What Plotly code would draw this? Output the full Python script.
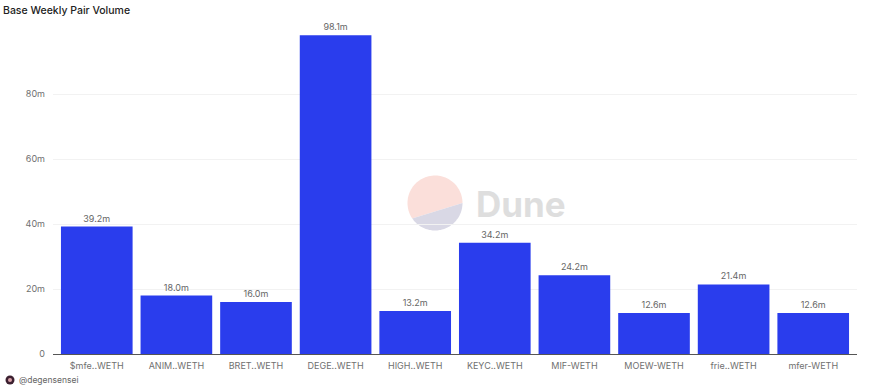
import math
import plotly.graph_objects as go

categories = ["$mfe..WETH", "ANIM..WETH", "BRET..WETH", "DEGE..WETH", "HIGH..WETH",
              "KEYC..WETH", "MIF-WETH", "MOEW-WETH", "frie..WETH", "mfer-WETH"]
volume_m = [39.2, 18.0, 16.0, 98.1, 13.2, 34.2, 24.2, 12.6, 21.4, 12.6]
value_labels = ["39.2m", "18.0m", "16.0m", "98.1m", "13.2m", "34.2m", "24.2m", "12.6m", "21.4m", "12.6m"]
y_ticks = [0, 20, 40, 60, 80]
y_tick_labels = ["0", "20m", "40m", "60m", "80m"]

W, H = 874, 391
ML, MR, MT, MB = 53, 17, 20, 37
FONT = "Inter, 'Noto Sans', sans-serif"


def px(x):
    return (x - ML) / (W - ML - MR)


def py(y):
    return (H - MB - y) / (H - MT - MB)


def wedge(cx, cy, r, a0, a1, n=60):
    pts = []
    for i in range(n + 1):
        a = math.radians(a0 + (a1 - a0) * i / n)
        pts.append((cx + r * math.cos(a), cy + r * math.sin(a)))
    return "M" + " L".join(f"{px(x):.5f},{py(y):.5f}" for x, y in pts) + " Z"


fig = go.Figure(go.Bar(
    x=list(range(len(categories))),
    y=volume_m,
    width=0.9,
    marker=dict(color="#2a3ded", line=dict(width=0)),
    text=value_labels,
    textposition="outside",
    cliponaxis=False,
    textfont=dict(family=FONT, size=9, color="#666666"),
    hoverinfo="skip",
))

shapes = [
    dict(type="path", xref="paper", yref="paper", layer="below",
         path=wedge(435, 203, 27.5, 146, 360), fillcolor="#fbdfda", line=dict(width=0)),
    dict(type="path", xref="paper", yref="paper", layer="below",
         path=wedge(435, 203, 27.5, 0, 146), fillcolor="#d9d8e5", line=dict(width=0)),
    dict(type="circle", xref="paper", yref="paper", layer="above",
         x0=px(5.5), x1=px(14.5), y0=py(384.5), y1=py(375.5),
         fillcolor="#3c2030", line=dict(width=0)),
    dict(type="circle", xref="paper", yref="paper", layer="above",
         x0=px(8), x1=px(12), y0=py(382), y1=py(378),
         fillcolor="#d9a0a8", line=dict(width=0)),
]

annotations = [
    dict(text="Base Weekly Pair Volume", xref="paper", yref="paper", x=px(1), y=py(10.5),
         xanchor="left", yanchor="middle", showarrow=False,
         font=dict(family=FONT, size=10.5, color="#222222", weight=500)),
    dict(text="Dune", xref="paper", yref="paper", x=px(474), y=py(204),
         xanchor="left", yanchor="middle", showarrow=False,
         font=dict(family=FONT, size=35, color="#dedede", weight=700)),
    dict(text="@degensensei", xref="paper", yref="paper", x=px(16.5), y=py(379.5),
         xanchor="left", yanchor="middle", showarrow=False,
         font=dict(family=FONT, size=8.5, color="#666666")),
]

fig.update_layout(
    width=W, height=H,
    autosize=False,
    margin=dict(l=ML, r=MR, t=MT, b=MB, pad=0),
    paper_bgcolor="white",
    plot_bgcolor="white",
    showlegend=False,
    shapes=shapes,
    annotations=annotations,
    font=dict(family=FONT, size=10, color="#666666"),
    xaxis=dict(
        range=[-0.55, 9.55],
        tickmode="array",
        tickvals=list(range(len(categories))),
        ticktext=categories,
        tickangle=0,
        showgrid=False,
        showline=True,
        linecolor="#555555",
        linewidth=1,
        ticks="",
        ticklabelstandoff=3,
        tickfont=dict(family=FONT, size=9, color="#707070"),
        zeroline=False,
    ),
    yaxis=dict(
        range=[0, 102.77],
        tickmode="array",
        tickvals=y_ticks,
        ticktext=y_tick_labels,
        showgrid=True,
        gridcolor="#f2f2f2",
        gridwidth=1,
        zeroline=False,
        showline=False,
        ticks="",
        ticklabelstandoff=7,
        tickfont=dict(family=FONT, size=9, color="#707070"),
    ),
)

fig.write_html("out.html", config=dict(displayModeBar=False),
               post_script="document.body.style.margin='0';document.body.style.overflow='hidden';")
